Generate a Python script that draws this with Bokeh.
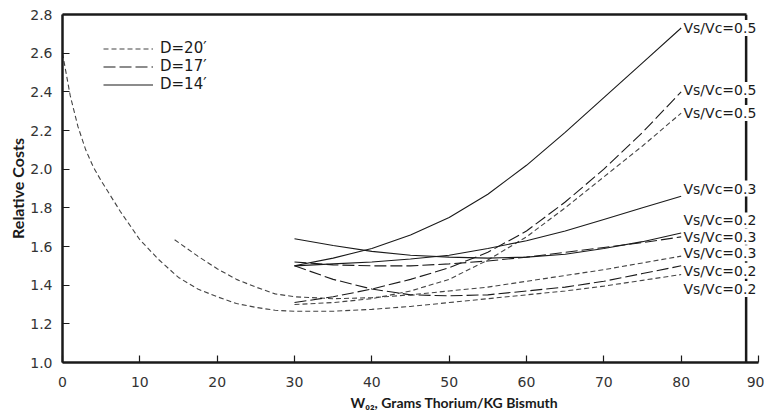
from bokeh.plotting import figure
from bokeh.models import (Range1d, LinearAxis, FixedTicker, Legend, LegendItem, Span, Title,
                          ColumnDataSource, LabelSet, PrintfTickFormatter)
from bokeh.core.properties import value
from bokeh.embed import file_html
from bokeh.resources import INLINE

# ---------------- data ----------------
x_ticks = [0, 10, 20, 30, 40, 50, 60, 70, 80, 90]
y_ticks = [1.0, 1.2, 1.4, 1.6, 1.8, 2.0, 2.2, 2.4, 2.6, 2.8]
x_frame_end = 88.4

# D = 20 ft (short dash)
d20_v02_x = [0, 1, 2, 3, 4, 5, 7.5, 10, 12.5, 15, 17.5, 20, 22.5, 25, 27.5, 30, 35, 40, 45, 50, 55, 60, 65, 70, 75, 80]
d20_v02_y = [2.60, 2.38, 2.22, 2.10, 2.01, 1.94, 1.78, 1.635, 1.53, 1.44, 1.38, 1.34, 1.305, 1.285, 1.27, 1.265,
             1.265, 1.275, 1.29, 1.31, 1.33, 1.35, 1.37, 1.395, 1.425, 1.455]
d20_v03_x = [14.5, 17.5, 20, 22.5, 25, 27.5, 30, 35, 40, 45, 50, 55, 60, 65, 70, 75, 80]
d20_v03_y = [1.635, 1.55, 1.485, 1.43, 1.39, 1.355, 1.34, 1.33, 1.335, 1.35, 1.37, 1.39, 1.42, 1.45, 1.48, 1.515, 1.55]
d20_v05_x = [30, 35, 40, 45, 50, 55, 60, 65, 70, 75, 80]
d20_v05_y = [1.30, 1.31, 1.33, 1.37, 1.43, 1.53, 1.65, 1.80, 1.96, 2.12, 2.29]

# D = 17 ft (long dash)
d17_v02_x = [30, 35, 40, 45, 50, 55, 60, 65, 70, 75, 80]
d17_v02_y = [1.50, 1.43, 1.38, 1.35, 1.345, 1.35, 1.37, 1.39, 1.42, 1.46, 1.50]
d17_v03_x = [30, 35, 40, 45, 50, 55, 60, 65, 70, 75, 80]
d17_v03_y = [1.52, 1.505, 1.50, 1.50, 1.51, 1.525, 1.545, 1.57, 1.595, 1.62, 1.65]
d17_v05_x = [30, 35, 40, 45, 50, 55, 60, 65, 70, 75, 80]
d17_v05_y = [1.31, 1.34, 1.38, 1.43, 1.49, 1.57, 1.68, 1.83, 2.00, 2.19, 2.40]

# D = 14 ft (solid)
d14_v02_x = [30, 35, 40, 45, 50, 55, 60, 65, 70, 75, 80]
d14_v02_y = [1.64, 1.605, 1.575, 1.555, 1.545, 1.54, 1.545, 1.56, 1.59, 1.625, 1.67]
d14_v03_x = [30, 35, 40, 45, 50, 55, 60, 65, 70, 75, 80]
d14_v03_y = [1.50, 1.51, 1.52, 1.535, 1.555, 1.59, 1.63, 1.68, 1.74, 1.80, 1.86]
d14_v05_x = [30, 35, 40, 45, 50, 55, 60, 65, 70, 75, 80]
d14_v05_y = [1.50, 1.54, 1.59, 1.66, 1.75, 1.87, 2.02, 2.19, 2.37, 2.55, 2.73]

legend_labels = ["D=20\u2032", "D=17\u2032", "D=14\u2032"]

end_label_x = [80.3] * 9
end_label_y = [2.73, 2.41, 2.29, 1.90, 1.735, 1.65, 1.565, 1.475, 1.38]
end_label_text = ["Vs/Vc=0.5", "Vs/Vc=0.5", "Vs/Vc=0.5", "Vs/Vc=0.3", "Vs/Vc=0.2",
                  "Vs/Vc=0.3", "Vs/Vc=0.3", "Vs/Vc=0.2", "Vs/Vc=0.2"]

x_title = "W\u2080\u2082, Grams Thorium/KG Bismuth"
y_title = "Relative Costs"

# ---------------- figure ----------------
TICKFONT = "DejaVu Sans"
TITLEFONT = "Lato"
INK = "#1a1a1a"

p = figure(width=764, height=416, output_backend="svg", toolbar_location=None,
           x_range=Range1d(0, 90), y_range=Range1d(1.0, 2.8),
           min_border_left=62, min_border_right=6, min_border_top=14, min_border_bottom=54)
p.background_fill_color = "white"
p.border_fill_color = "white"
p.outline_line_color = None
p.xgrid.visible = False
p.ygrid.visible = False

for ax in (p.xaxis[0], p.yaxis[0]):
    ax.axis_line_color = INK
    ax.axis_line_width = 2.5
    ax.major_tick_in = 7
    ax.major_tick_out = 0
    ax.minor_tick_line_color = None
    ax.major_tick_line_color = INK
    ax.major_tick_line_width = 1.2
    ax.major_label_text_font = TICKFONT
    ax.major_label_text_font_size = "14px"
    ax.major_label_text_color = "#333333"

p.xaxis[0].ticker = FixedTicker(ticks=x_ticks)
p.yaxis[0].ticker = FixedTicker(ticks=y_ticks)
p.yaxis[0].formatter = PrintfTickFormatter(format="%.1f")
p.xaxis[0].major_label_standoff = 14
p.yaxis[0].major_label_standoff = 10

p.yaxis[0].axis_label = y_title
p.yaxis[0].axis_label_text_font = TITLEFONT
p.yaxis[0].axis_label_text_font_size = "16px"
p.yaxis[0].axis_label_text_font_style = "bold"
p.yaxis[0].axis_label_text_color = INK
p.yaxis[0].axis_label_standoff = 0

# top frame line (no ticks), ending at the right frame edge
top_ax = LinearAxis(ticker=FixedTicker(ticks=[]), bounds=(0, x_frame_end),
                    axis_line_color=INK, axis_line_width=2.5, major_tick_line_color=None,
                    minor_tick_line_color=None)
p.add_layout(top_ax, "above")

p.add_layout(Title(text=x_title, align="left", offset=288, standoff=4,
                   text_font=TITLEFONT, text_font_size="14px", text_font_style="bold",
                   text_color=INK), "below")

SHORT = "5 3"
LONG = "12 4"
LW = 1.1

r20a = p.line(d20_v02_x, d20_v02_y, line_color="#444444", line_width=LW, line_dash=SHORT)
p.line(d20_v03_x, d20_v03_y, line_color="#444444", line_width=LW, line_dash=SHORT)
p.line(d20_v05_x, d20_v05_y, line_color="#444444", line_width=LW, line_dash=SHORT)
r17a = p.line(d17_v02_x, d17_v02_y, line_color=INK, line_width=LW, line_dash=LONG)
p.line(d17_v03_x, d17_v03_y, line_color=INK, line_width=LW, line_dash=LONG)
p.line(d17_v05_x, d17_v05_y, line_color=INK, line_width=LW, line_dash=LONG)
r14a = p.line(d14_v02_x, d14_v02_y, line_color=INK, line_width=LW)
p.line(d14_v03_x, d14_v03_y, line_color=INK, line_width=LW)
p.line(d14_v05_x, d14_v05_y, line_color=INK, line_width=LW)

# right frame line
p.add_layout(Span(location=x_frame_end, dimension="height", line_color=INK, line_width=2.5))

legend = Legend(items=[LegendItem(label=legend_labels[0], renderers=[r20a]),
                       LegendItem(label=legend_labels[1], renderers=[r17a]),
                       LegendItem(label=legend_labels[2], renderers=[r14a])],
                location=(41, 269), padding=0, margin=0, spacing=0,
                glyph_width=50, glyph_height=17, label_height=17, label_standoff=7,
                label_text_font=TICKFONT, label_text_font_size="15px", label_text_color=INK,
                border_line_alpha=0, background_fill_alpha=0)
p.add_layout(legend)

src = ColumnDataSource(dict(x=end_label_x, y=end_label_y, t=end_label_text))
p.add_layout(LabelSet(x="x", y="y", text="t", source=src, text_baseline="middle",
                      text_align="left", text_font=value(TICKFONT), text_font_size=value("14px"),
                      text_color=INK, background_fill_color="white"))

open("out.html", "w").write(file_html(p, INLINE))
